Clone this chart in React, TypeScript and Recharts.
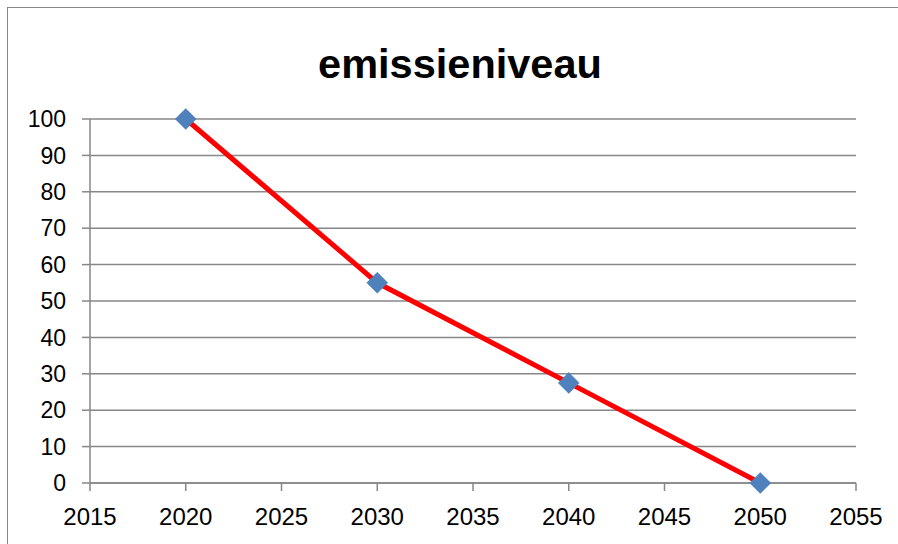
import React from "react";
import { LineChart, Line, XAxis, YAxis, CartesianGrid } from "recharts";

const years = [2020, 2030, 2040, 2050];
const emissions = [100, 55, 27.5, 0];
const xTicks = [2015, 2020, 2025, 2030, 2035, 2040, 2045, 2050, 2055];
const yTicks = [0, 10, 20, 30, 40, 50, 60, 70, 80, 90, 100];
const title = "emissieniveau";

const data = years.map((y, i) => ({ year: y, value: emissions[i] }));

const FONT = "'Liberation Sans', Arial, sans-serif";
const GRAY = "#878787";

const Diamond = (props: any) => {
  const { cx, cy, index } = props;
  if (cx == null || cy == null) return null;
  const r = 10.5;
  return (
    <path
      key={`d-${index}`}
      d={`M${cx},${cy - r} L${cx + r},${cy} L${cx},${cy + r} L${cx - r},${cy} Z`}
      fill="#4F81BD"
      stroke="#4A7EBB"
      strokeWidth={0.5}
    />
  );
};

export default function App() {
  return (
    <div
      style={{
        position: "fixed",
        left: 0,
        top: 0,
        width: 898,
        height: 544,
        overflow: "hidden",
        background: "#fff",
      }}
    >
      <div
        style={{
          position: "absolute",
          left: 6.5,
          top: 6.5,
          width: 1200,
          height: 1200,
          border: `1.5px solid ${GRAY}`,
          boxSizing: "border-box",
        }}
      />
      <div style={{ position: "absolute", left: 0, top: 0 }}>
        <LineChart
          width={898}
          height={544}
          data={data}
          margin={{ top: 119, right: 42, bottom: 21, left: 10 }}
        >
          <CartesianGrid
            vertical={false}
            stroke={GRAY}
            strokeWidth={1.5}
          />
          <XAxis
            dataKey="year"
            type="number"
            domain={[2015, 2055]}
            ticks={xTicks}
            interval={0}
            height={40}
            tickSize={8}
            tickMargin={17}
            axisLine={{ stroke: GRAY, strokeWidth: 1.5 }}
            tickLine={{ stroke: GRAY, strokeWidth: 1.5 }}
            tick={{ fill: "#000", fontSize: 24, fontFamily: FONT }}
          />
          <YAxis
            type="number"
            domain={[0, 100]}
            ticks={yTicks}
            interval={0}
            width={80}
            tickSize={8}
            tickMargin={16}
            axisLine={{ stroke: GRAY, strokeWidth: 1.5 }}
            tickLine={{ stroke: GRAY, strokeWidth: 1.5 }}
            tick={{ fill: "#000", fontSize: 23, fontFamily: FONT }}
          />
          <Line
            type="linear"
            dataKey="value"
            stroke="#FF0000"
            strokeWidth={5}
            dot={Diamond}
            activeDot={false}
            isAnimationActive={false}
          />
        </LineChart>
      </div>
      <svg
        width={898}
        height={544}
        style={{ position: "absolute", left: 0, top: 0, pointerEvents: "none" }}
      >
        <text
          x={460}
          y={78}
          textAnchor="middle"
          fontFamily={FONT}
          fontWeight="bold"
          fontSize={41.5}
          fill="#000"
        >
          {title}
        </text>
      </svg>
    </div>
  );
}
